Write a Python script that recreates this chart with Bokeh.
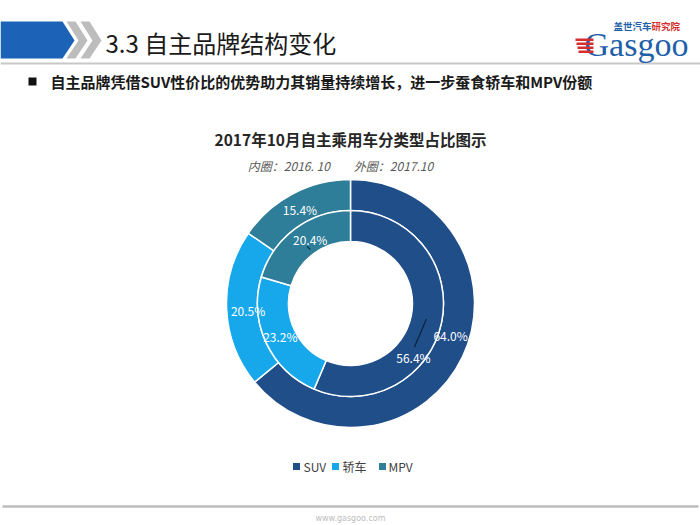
import math
from bokeh.plotting import figure
from bokeh.models import Range1d, ColumnDataSource
from bokeh.core.properties import value
from bokeh.embed import file_html
from bokeh.resources import INLINE

# ---------------- data ----------------
categories = ["SUV", "轿车", "MPV"]
outer_2017_10 = [64.0, 20.5, 15.4]   # 外圈：2017.10
inner_2016_10 = [56.4, 23.2, 20.4]   # 内圈：2016.10
colors = ["#1F4E89", "#17A8EC", "#2E7D99"]

page_title = "3.3 自主品牌结构变化"
bullet_text = "自主品牌凭借SUV性价比的优势助力其销量持续增长，进一步蚕食轿车和MPV份额"
chart_title = "2017年10月自主乘用车分类型占比图示"
chart_subtitle = "内圈：2016. 10\u3000\u3000外圈：2017.10"
footer_text = "www.gasgoo.com"

# ---------------- layout ----------------
W, H = 700, 525
CJK = value("Noto Sans CJK SC")


def sy(y):
    """page (screen) y -> data y"""
    return H - y


p = figure(width=W, height=H, x_range=Range1d(0, W), y_range=Range1d(0, H),
           output_backend="svg", toolbar_location=None, min_border=0,
           x_axis_location=None, y_axis_location=None)
p.grid.visible = False
p.outline_line_color = None
p.background_fill_color = "white"
p.border_fill_color = "white"

# ---- header ----
p.patch([0, 62, 74, 62, 0], [sy(21), sy(21), sy(40), sy(58), sy(58)],
        fill_color="#1C63B7", line_color=None)
p.patches([[66, 75, 87, 75, 66, 78], [80, 89, 101, 89, 80, 92]],
          [[sy(21), sy(21), sy(40), sy(58), sy(58), sy(40)]] * 2,
          fill_color="#BDBDBD", line_color=None)
p.text(x=[105], y=[sy(42)], text=[page_title], text_font=CJK,
       text_font_size="24px", text_color="#1A1A1A",
       text_align="left", text_baseline="middle")
p.line([0, 700], [sy(63), sy(63)], line_color="#C8C8C8", line_width=2)

# ---- logo ----
p.text(x=[584], y=[sy(44)], text=["Gasgoo"], text_font=value("Liberation Serif"),
       text_font_size="34px", text_color="#1F5FAA",
       text_align="left", text_baseline="middle")
p.quad(left=[575, 576, 577, 578], right=[593, 593, 593, 593],
       bottom=[sy(40.5), sy(44.5), sy(48.5), sy(52.5)],
       top=[sy(38), sy(42), sy(46), sy(50)],
       fill_color="#D62E2E", line_color=None)
p.text(x=[613], y=[sy(25)], text=["盖世汽车"], text_font=CJK,
       text_font_size="9.5px", text_font_style="bold", text_color="#1F5FAA",
       text_align="left", text_baseline="middle")
p.text(x=[651], y=[sy(25)], text=["研究院"], text_font=CJK,
       text_font_size="9.5px", text_font_style="bold", text_color="#D62E2E",
       text_align="left", text_baseline="middle")

# ---- bullet ----
p.quad(left=[28], right=[36], bottom=[sy(85)], top=[sy(77)],
       fill_color="#111111", line_color=None)
p.text(x=[50], y=[sy(81)], text=[bullet_text], text_font=CJK,
       text_font_size="15px", text_font_style="bold", text_color="#1A1A1A",
       text_align="left", text_baseline="middle")

# ---- chart titles ----
p.text(x=[350], y=[sy(138)], text=[chart_title], text_font=CJK,
       text_font_size="15.5px", text_font_style="bold", text_color="#262626",
       text_align="center", text_baseline="middle")
p.text(x=[340], y=[sy(165)], text=[chart_subtitle], text_font=CJK,
       text_font_size="12px", text_font_style="italic", text_color="#595959",
       text_align="center", text_baseline="middle")

# ---- doughnut ----
CX, CY = 350, sy(303)
R_HOLE, R_MID, R_OUT = 62, 93, 124


def ring(vals, r_in, r_out):
    total = float(sum(vals))
    starts, ends, lx, ly = [], [], [], []
    cum = 0.0
    for v in vals:
        f0, f1 = cum / total, (cum + v) / total
        cum += v
        a0 = math.pi / 2 - 2 * math.pi * f0
        a1 = math.pi / 2 - 2 * math.pi * f1
        starts.append(a0)
        ends.append(a1)
        am = (a0 + a1) / 2
        rm = (r_in + r_out) / 2
        lx.append(CX + rm * math.cos(am))
        ly.append(CY + rm * math.sin(am))
    return dict(cat=categories, val=vals, color=colors, start=starts, end=ends,
                lx=lx, ly=ly, label=["%.1f%%" % v for v in vals])


inner = ring(inner_2016_10, R_HOLE, R_MID)
outer = ring(outer_2017_10, R_MID, R_OUT)

for d, r0, r1 in ((outer, R_MID, R_OUT), (inner, R_HOLE, R_MID)):
    src = ColumnDataSource(d)
    p.annular_wedge(x=CX, y=CY, inner_radius=r0, outer_radius=r1,
                    start_angle="start", end_angle="end", direction="clock",
                    fill_color="color", line_color="white", line_width=1.5,
                    source=src)

# label offsets (manually dragged labels in the original)
inner_off = [(-13, -39), (0, 0), (6, 2)]
outer_off = [(2, 14), (6, -2), (0, -2)]

ix = [x + o[0] for x, o in zip(inner["lx"], inner_off)]
iy = [y + o[1] for y, o in zip(inner["ly"], inner_off)]
ox = [x + o[0] for x, o in zip(outer["lx"], outer_off)]
oy = [y + o[1] for y, o in zip(outer["ly"], outer_off)]

# leader lines
p.segment(x0=[inner["lx"][0], inner["lx"][2] + 3], y0=[inner["ly"][0], inner["ly"][2] - 5],
          x1=[ix[0] + 1, inner["lx"][2] + 6], y1=[iy[0] + 11, inner["ly"][2] - 8],
          line_color="#10203A", line_width=1.2)

p.text(x=ox, y=oy, text=outer["label"], text_font=CJK, text_font_size="12px",
       text_color="white", text_align="center", text_baseline="middle")
p.text(x=ix, y=iy, text=inner["label"], text_font=CJK, text_font_size="12px",
       text_color="white", text_align="center", text_baseline="middle")

# ---- legend ----
leg_sq_x = [296, 335, 382]
leg_tx_x = [303, 342, 388]
p.rect(x=leg_sq_x, y=[sy(466)] * 3, width=7, height=7,
       fill_color=colors, line_color=None)
p.text(x=leg_tx_x, y=[sy(466)] * 3, text=categories, text_font=CJK,
       text_font_size="12px", text_color="#404040",
       text_align="left", text_baseline="middle")

# ---- footer ----
p.line([2, 698], [sy(506), sy(506)], line_color="#BDBDBD", line_width=2.5)
p.text(x=[350], y=[sy(518)], text=[footer_text], text_font=value("DejaVu Sans"),
       text_font_size="8px", text_color="#BDBDBD",
       text_align="center", text_baseline="middle")

open("out.html", "w").write(file_html(p, INLINE))
